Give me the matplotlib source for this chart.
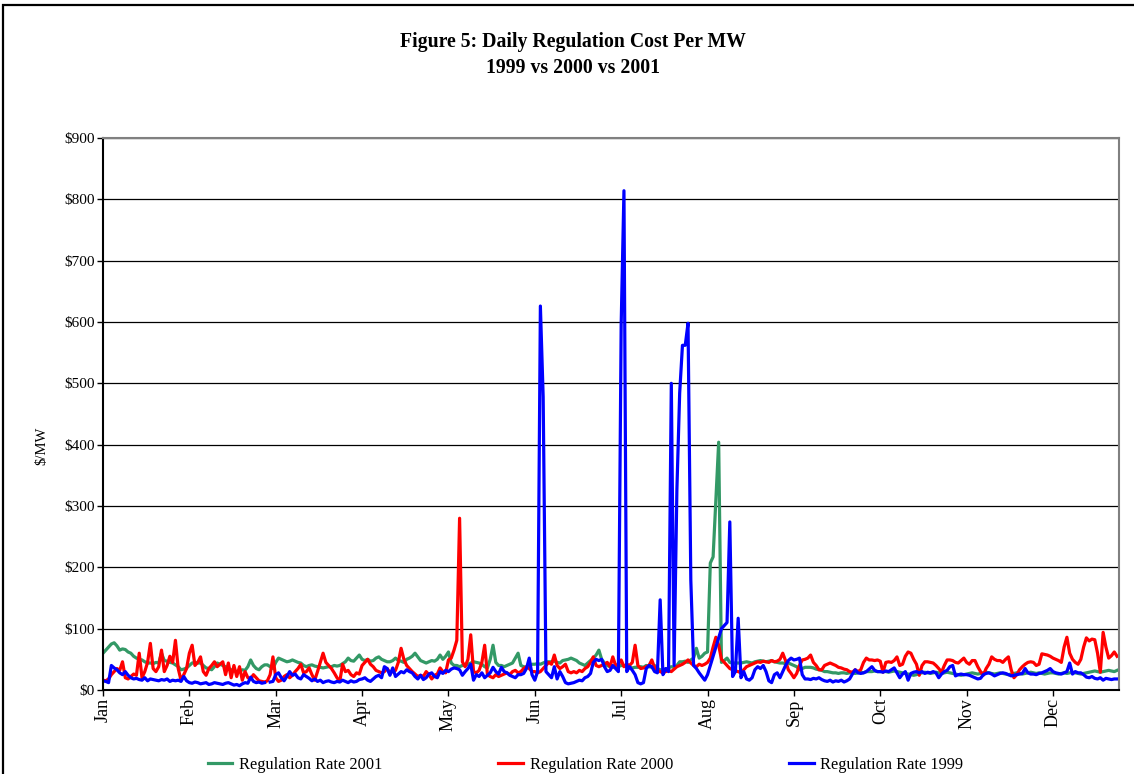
import numpy as np
import matplotlib
matplotlib.use("Agg")
import matplotlib.pyplot as plt
from matplotlib.patches import Rectangle

plt.rcParams['font.family'] = ['Liberation Serif', 'DejaVu Serif']

# daily regulation cost ($/MW), one row per 31-day tick interval
rate_2001 = [
    60, 65, 70, 75, 77, 72, 65, 67, 66, 62, 60, 55, 52, 50, 49, 46, 44, 44, 43, 45, 44, 60, 48, 47, 45, 44, 41, 38, 33, 34, 36,
    40, 44, 45, 44, 44, 40, 36, 35, 33, 38, 44, 42, 40, 38, 35, 33, 32, 30, 31, 33, 32, 38, 49, 40, 35, 33, 38, 41, 41, 38, 35,
    45, 52, 50, 48, 46, 47, 49, 47, 45, 44, 40, 38, 40, 41, 39, 38, 37, 36, 37, 38, 38, 40, 39, 40, 43, 46, 52, 48, 47, 52, 57,
    50, 48, 50, 47, 48, 52, 54, 50, 48, 46, 46, 48, 52, 48, 47, 45, 50, 52, 55, 60, 54, 48, 46, 44, 46, 48, 47, 50, 57, 50, 55,
    62, 44, 40, 40, 38, 40, 40, 42, 44, 46, 45, 44, 42, 38, 36, 50, 73, 45, 40, 40, 38, 40, 42, 44, 52, 60, 40, 38, 37, 40, 42,
    42, 43, 42, 44, 46, 46, 46, 47, 45, 44, 48, 49, 50, 52, 50, 48, 44, 42, 40, 44, 48, 52, 57, 65, 50, 44, 40, 38, 37, 37, 38,
    40, 40, 38, 37, 36, 37, 37, 38, 37, 40, 38, 37, 40, 35, 33, 33, 34, 36, 38, 37, 40, 46, 46, 47, 45, 49, 52, 68, 52, 55, 60,
    62, 207, 217, 310, 404, 45, 48, 52, 45, 44, 44, 44, 44, 45, 46, 45, 44, 46, 47, 48, 47, 46, 47, 48, 46, 45, 44, 44, 43, 44, 42,
    40, 38, 33, 35, 37, 37, 37, 36, 34, 33, 32, 30, 30, 29, 28, 28, 27, 28, 28, 27, 28, 28, 27, 28, 29, 28, 30, 30, 30, 31, 30,
    30, 31, 30, 29, 30, 31, 30, 29, 28, 27, 26, 25, 24, 25, 27, 28, 29, 28, 27, 28, 29, 28, 27, 28, 29, 28, 27, 26, 25, 24, 25,
    26, 27, 28, 27, 26, 27, 28, 29, 28, 27, 26, 27, 28, 27, 26, 25, 26, 27, 28, 27, 26, 27, 28, 29, 28, 27, 28, 27, 26, 27, 28,
    28, 27, 26, 27, 28, 27, 28, 29, 28, 27, 26, 27, 28, 29, 30, 31, 30, 29, 30, 31, 32, 31, 30, 32,
]

rate_2000 = [
    16, 15, 18, 25, 30, 35, 32, 46, 20, 18, 22, 26, 24, 60, 20, 30, 45, 76, 35, 30, 38, 65, 30, 40, 55, 45, 81, 35, 16, 25, 35,
    60, 73, 40, 45, 54, 30, 24, 35, 40, 46, 38, 42, 46, 25, 44, 20, 40, 22, 38, 16, 30, 20, 18, 25, 20, 15, 14, 13, 15, 25, 54,
    20, 14, 16, 22, 25, 20, 24, 30, 35, 42, 28, 30, 36, 25, 16, 30, 45, 60, 45, 40, 35, 28, 20, 14, 42, 30, 32, 25, 22, 28, 26,
    40, 45, 50, 42, 38, 32, 30, 28, 30, 35, 28, 30, 32, 45, 68, 50, 40, 35, 30, 26, 22, 24, 22, 30, 25, 18, 24, 26, 36, 30, 28,
    49, 52, 65, 81, 280, 46, 38, 50, 90, 30, 28, 32, 45, 73, 25, 22, 20, 25, 22, 24, 26, 28, 25, 30, 32, 28, 30, 35, 38, 35, 30,
    30, 28, 30, 35, 40, 45, 42, 57, 40, 35, 38, 42, 30, 28, 30, 28, 32, 30, 35, 38, 45, 54, 40, 38, 40, 42, 45, 38, 54, 40, 42,
    49, 38, 42, 40, 45, 73, 40, 35, 36, 38, 40, 49, 36, 32, 30, 28, 30, 32, 30, 34, 38, 40, 42, 45, 49, 44, 40, 38, 42, 40, 42,
    45, 52, 70, 86, 73, 50, 45, 40, 35, 33, 31, 30, 28, 33, 38, 40, 42, 44, 46, 45, 47, 46, 45, 48, 46, 47, 50, 60, 48, 33, 27,
    20, 27, 40, 49, 50, 52, 57, 45, 40, 33, 33, 40, 42, 44, 42, 40, 37, 36, 34, 33, 30, 29, 33, 30, 33, 45, 52, 49, 49, 48, 49,
    47, 29, 45, 46, 45, 48, 54, 40, 42, 55, 62, 60, 50, 42, 24, 40, 46, 46, 45, 44, 40, 35, 29, 40, 49, 49, 48, 45, 44, 48, 52,
    45, 42, 48, 48, 38, 30, 24, 35, 42, 54, 50, 48, 48, 45, 50, 54, 33, 20, 25, 33, 38, 42, 45, 46, 45, 40, 42, 59, 58, 57, 55,
    52, 50, 48, 45, 70, 86, 60, 50, 45, 42, 50, 70, 85, 80, 83, 82, 60, 29, 94, 70, 52, 56, 62, 55,
]

nan = np.nan
rate_1999 = [
    15, 14, 12, 40, 36, 33, 28, 25, 30, 24, 20, 18, 19, 17, 16, 20, 15, 18, 17, 16, 15, 17, 16, 18, 14, 16, 15, 16, 14, 22, 15,
    12, 11, 13, 12, 10, 11, 12, 9, 10, 12, 11, 10, 9, 11, 12, 10, 8, 9, 7, 10, 12, 11, 21, 14, 12, 13, 11, 12, nan, 13, 14,
    25, 28, 20, 15, 22, 30, 24, 26, 20, 18, 25, 22, 19, 15, 18, 14, 16, 12, 14, 15, 13, 12, 14, 13, 16, 14, 12, 15, 13, 14, 17,
    18, 20, 16, 14, 18, 22, 24, 20, 38, 35, 24, 36, 22, 26, 30, 28, 33, 30, 28, 22, 18, 24, 17, 20, 26, 28, 22, 20, 30, 27, 32,
    30, 34, 36, 35, 33, 24, 30, 35, 42, 16, 25, 22, 28, 20, 24, 28, 37, 30, 26, 37, 30, 28, 24, 22, 20, 25, 25, 27, 35, 52, 25,
    16, 30, 626, 478, 30, 25, 20, 38, 18, 30, 22, 12, 10, 11, 12, 14, 16, 15, 20, 22, 27, 45, 50, 48, 50, 38, 30, 32, 40, 35, 30,
    595, 814, 30, 38, 32, 25, 12, 10, 12, 35, 40, 38, 30, 28, 147, 25, 35, 30, 500, 40, 326, 484, 562, 562, 598, 179, 40, 35, 28, 22, 16,
    25, 40, 55, 70, 85, 100, 105, 110, 274, 22, 30, 117, 20, 30, 18, 16, 20, 33, 38, 35, 40, 30, 15, 12, 25, 28, 20, 30, 40, 48, 52,
    49, 50, 52, 25, 18, 18, 17, 19, 18, 20, 17, 15, 14, 16, 13, 15, 14, 16, 13, 15, 18, 26, 33, 28, 27, 28, 30, 34, 38, 32, 30,
    30, 29, 31, 30, 33, 36, 28, 20, 26, 30, 16, 27, 29, 30, 28, 30, 27, 29, 28, 30, 28, 20, 26, 30, 32, 38, 40, 23, 25, 26, 25,
    25, 24, 22, 20, 18, 19, 25, 27, 28, 26, 23, 25, 27, 28, 27, 25, 23, 24, 25, 26, 27, 35, 28, 26, 26, 25, 27, 28, 30, 32, 35,
    30, 28, 27, 26, 28, 30, 44, 26, 30, 28, 28, 25, 21, 20, 22, 19, 18, 20, 16, 19, 18, 17, 18, 18,
]

months = ["Jan", "Feb", "Mar", "Apr", "May", "Jun", "Jul", "Aug", "Sep", "Oct", "Nov", "Dec"]
y_ticks = [0, 100, 200, 300, 400, 500, 600, 700, 800, 900]

days = np.arange(365)

W, H = 1134, 774
fig = plt.figure(figsize=(W / 100, H / 100), dpi=100)
fig.patch.set_facecolor("white")

# outer chart border (right and bottom sides fall outside the image)
fig.add_artist(Rectangle((3 / W, -0.02), 1.05, 1 - 5 / H + 0.02, transform=fig.transFigure,
                         fill=False, edgecolor="black", linewidth=1.6))

left, right, top, bottom = 103, 1119, 138, 690
ax = fig.add_axes([left / W, 1 - bottom / H, (right - left) / W, (bottom - top) / H])

ax.plot(days, rate_2001, color="#339966", lw=2.3, label="Regulation Rate 2001")
ax.plot(days, rate_2000, color="#ff0000", lw=2.3, label="Regulation Rate 2000")
ax.plot(days, rate_1999, color="#0000ff", lw=2.3, label="Regulation Rate 1999")

ax.set_xlim(0, 364.7)
ax.set_ylim(0, 900)
ax.set_yticks(y_ticks)
ax.set_yticklabels(["${}".format(v) for v in y_ticks], fontsize=11)
ax.set_xticks(np.arange(12) * 31)
ax.set_xticklabels(months, rotation=90, fontsize=13)
ax.tick_params(axis="both", direction="out", length=4, width=1, color="black", pad=2)
ax.grid(axis="y", color="black", lw=0.9)
ax.set_axisbelow(True)

for side in ["top", "right"]:
    ax.spines[side].set_color("#808080")
    ax.spines[side].set_linewidth(1.5)
ax.spines["left"].set_linewidth(1.5)
ax.spines["bottom"].set_linewidth(1.5)

ax.set_ylabel("$/MW", fontsize=10.5)
ax.yaxis.set_label_coords((48 - left) / (right - left), (bottom - 446) / (bottom - top))

fig.text(573 / W, 1 - 42 / H, "Figure 5: Daily Regulation Cost Per MW", ha="center", va="center",
         fontsize=14.2, fontweight="bold")
fig.text(573 / W, 1 - 68 / H, "1999 vs 2000 vs 2001", ha="center", va="center",
         fontsize=14.2, fontweight="bold")

fig.legend(loc="center", bbox_to_anchor=(585.5 / W, 1 - 765 / H), ncol=3, frameon=False,
           fontsize=11.8, handlelength=1.5, columnspacing=7.1, handletextpad=0.4)

fig.savefig("out.png", dpi=100, facecolor="white")
